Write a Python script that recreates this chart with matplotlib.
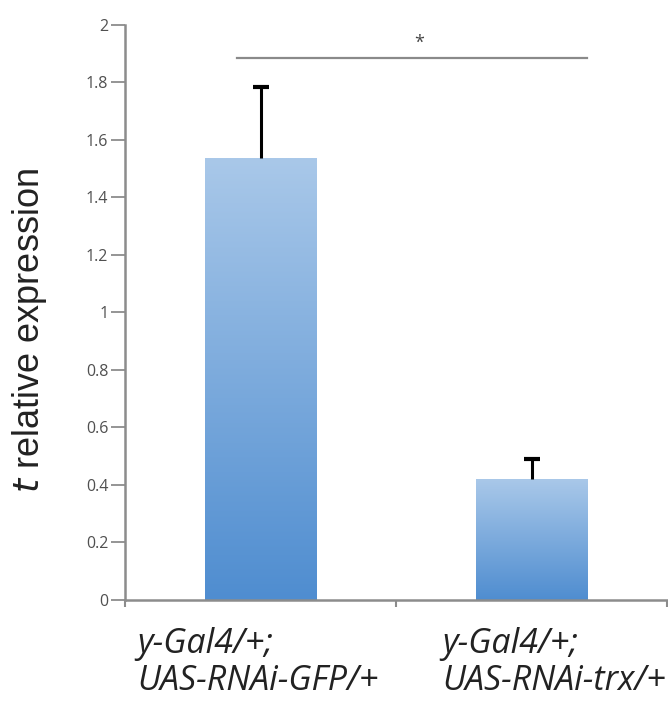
import numpy as np
import matplotlib
matplotlib.use("Agg")
import matplotlib.pyplot as plt
from matplotlib.colors import LinearSegmentedColormap

plt.rcParams["font.family"] = ["Open Sans", "DejaVu Sans"]

# data
groups = ["y-Gal4/+;\nUAS-RNAi-GFP/+", "y-Gal4/+;\nUAS-RNAi-trx/+"]
means = [1.535, 0.42]
errors = [0.25, 0.07]
sig_label = "*"
yticks = [0, 0.2, 0.4, 0.6, 0.8, 1, 1.2, 1.4, 1.6, 1.8, 2]

AXIS = "#8c8c8c"
TICKTXT = "#505050"
grad = LinearSegmentedColormap.from_list("bar", ["#4f8dd0", "#a9c8e9"])

fig = plt.figure(figsize=(6.68, 7.05), dpi=100)
ax = fig.add_axes([0.187, 0.149, 0.812, 0.816])

x = np.arange(len(groups)) + 0.5
bars = ax.bar(x, means, width=0.41, color="none", edgecolor="none", zorder=2)
for b in bars:
    x0, x1 = b.get_x(), b.get_x() + b.get_width()
    img = ax.imshow(np.linspace(0, 1, 256).reshape(-1, 1), cmap=grad,
                    extent=[x0, x1, 0, b.get_height()], origin="lower",
                    aspect="auto", zorder=2)
    img.set_clip_path(b)

# upper error only; hide the cap at the bar top
eb = ax.errorbar(x, means, yerr=[np.zeros(len(errors)), errors], fmt="none",
                 ecolor="black", elinewidth=2.2, capsize=6, capthick=3, zorder=3)
eb[1][0].set_visible(False)

# significance bracket
ax.plot([0.413, 1.705], [1.885, 1.885], color="#8a8a8a", lw=1.6, zorder=3)
ax.text(1.085, 1.905, sig_label, ha="center", va="bottom", fontsize=13, color="#444444")

ax.set_xlim(0, 2)
ax.set_ylim(0, 2)
ax.set_xticks([0, 1, 2])
ax.set_xticklabels([])
ax.set_yticks(yticks)
ax.set_yticklabels([f"{v:g}" for v in yticks], fontsize=11.5, color=TICKTXT)
ax.tick_params(axis="y", direction="out", length=10, width=1.3, color=AXIS, pad=2)
ax.tick_params(axis="x", direction="out", length=5, width=1.5, color=AXIS)

for s in ["top", "right"]:
    ax.spines[s].set_visible(False)
for s in ["left", "bottom"]:
    ax.spines[s].set_color(AXIS)
    ax.spines[s].set_linewidth(1.8)

# category labels, left aligned under each bar
label_x = [137 / 668, 442 / 668]
for lx, lab in zip(label_x, groups):
    fig.text(lx, 1 - 627 / 705, lab, ha="left", va="top", fontsize=24.5,
             style="italic", color="#222222", linespacing=1.12)

fig.text(0.044, 1 - 330 / 705, "$\\it{t}$ relative expression", rotation=90,
         ha="center", va="center", fontsize=26, color="#222222",
         family=["Liberation Sans", "DejaVu Sans"])

fig.savefig("out.png", dpi=100)
